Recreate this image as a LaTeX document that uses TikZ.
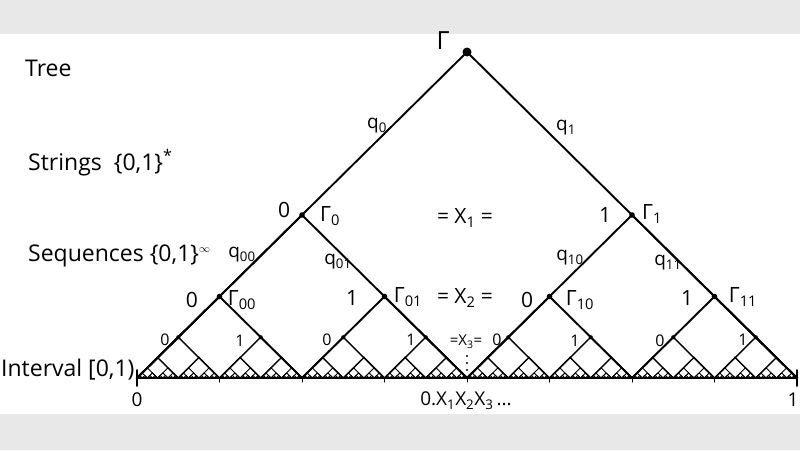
\documentclass[tikz,border=0pt]{standalone}
\usepackage{fontspec}
\setmainfont{Open Sans}
\begin{document}
\begin{tikzpicture}[x=1pt,y=-1pt,line cap=round,line join=round,
  big/.style={inner sep=0pt,font=\fontsize{21}{23}\selectfont},
  side/.style={inner sep=0pt,anchor=west,font=\fontsize{23}{25}\selectfont},
  qlab/.style={inner sep=0pt,font=\fontsize{19}{21}\selectfont},
  small/.style={inner sep=0pt,font=\fontsize{16}{18}\selectfont},
  bot/.style={inner sep=0pt,font=\fontsize{19}{21}\selectfont}]
\useasboundingbox (0,0) rectangle (800,450);
\fill[black!9] (0,0) rectangle (800,450);
\fill[white] (0,34) rectangle (800,414);
% fractal tree
\foreach \d in {0,...,7}{
  \pgfmathtruncatemacro\n{2^\d-1}
  \pgfmathsetmacro\w{660/2^\d}
  \pgfmathsetmacro\h{326/2^\d}
  \pgfmathsetmacro\lw{\d<3 ? 1.9 : (\d<5 ? 1.4 : 0.9)}
  \foreach \i in {0,...,\n}{
    \coordinate (L\d-\i) at ({137+\i*\w},378);
    \coordinate (N\d-\i) at ({137+(\i+0.5)*\w},{378-\h});
    \coordinate (Rt\d-\i) at ({137+(\i+1)*\w},378);
    \draw[line width=\lw pt] (L\d-\i) -- (N\d-\i) -- (Rt\d-\i);
  }
}
% baseline
\coordinate (B0) at (137,378);
\coordinate (B1) at (797,378);
\draw[line width=2.8pt] (B0) -- (B1);
\draw[line width=1.6pt] ([yshift=-8pt]B0) -- ([yshift=8pt]B0);
\draw[line width=1.6pt] ([yshift=-8pt]B1) -- ([yshift=8pt]B1);
\foreach \i in {1,...,7}{
  \draw[line width=1pt] (L3-\i) -- ++(0,4);
}
% dots
\fill (N0-0) circle (4.5);
\foreach \p in {N1-0,N1-1,N2-0,N2-1,N2-2,N2-3}{\fill (\p) circle (2.8);}
\foreach \i in {0,...,7}{\fill (N3-\i) circle (2.1);}
\foreach \i in {0,...,15}{\fill (N4-\i) circle (1.3);}
% vertical dots under x3
\coordinate (vd) at (467,356);
\foreach \k in {0,1,2}{\fill ([yshift=-7*\k pt]vd) circle (1.2);}
% labels
\node[big,font=\fontsize{25}{27}\selectfont] (tG) at (443,41) {Γ};
\node[qlab] (q0) at (377,126) {q\textsubscript{0}};
\node[qlab] (q1) at (566,128) {q\textsubscript{1}};
\node[big] (z0) at (284,210) {0};
\node[big] (g0) at (330,216) {Γ\textsubscript{0}};
\node[big] (o1) at (605,215) {1};
\node[big] (g1) at (652,214) {Γ\textsubscript{1}};
\node[big] (x1) at (465,218) {= X\textsubscript{1} =};
\node[qlab] (q00) at (242,255) {q\textsubscript{00}};
\node[qlab] (q01) at (338,262) {q\textsubscript{01}};
\node[qlab] (q10) at (570,258) {q\textsubscript{10}};
\node[qlab] (q11) at (668,263) {q\textsubscript{11}};
\node[big] (z00) at (192,300) {0};
\node[big] (g00) at (242,300) {Γ\textsubscript{00}};
\node[big] (o01) at (352,298) {1};
\node[big] (g01) at (408,297) {Γ\textsubscript{01}};
\node[big] (x2) at (465,298) {= X\textsubscript{2} =};
\node[big] (z10) at (527,300) {0};
\node[big] (g10) at (580,300) {Γ\textsubscript{10}};
\node[big] (o11) at (687,298) {1};
\node[big] (g11) at (743,297) {Γ\textsubscript{11}};
\node[small] (s0) at (165,340) {0};
\node[small] (s1) at (240,341) {1};
\node[small] (s2) at (327,340) {0};
\node[small] (s3) at (411,340) {1};
\node[small] (s4) at (497,340) {0};
\node[small] (s5) at (575,341) {1};
\node[small] (s6) at (660,341) {0};
\node[small] (s7) at (743,340) {1};
\node[small,font=\fontsize{15}{17}\selectfont] (x3) at (466,342) {=X\textsubscript{3}=};
% left column
\node[side] (tree) at (25,68) {Tree};
\node[side] (str) at (28,163) {Strings\ \ \{0,1\}\textsuperscript{*}};
\node[side] (seq) at (28,256) {Sequences \{0,1\}\textsuperscript{$\scriptstyle\infty$}};
\node[side] (int) at (1,370) {Interval [0,1)};
% bottom
\node[bot] (b0) at (137,400) {0};
\node[bot] (b1) at (793,400) {1};
\node[bot] (bx) at (466,401) {0.X\textsubscript{1}X\textsubscript{2}X\textsubscript{3}\,...};
\end{tikzpicture}
\end{document}
